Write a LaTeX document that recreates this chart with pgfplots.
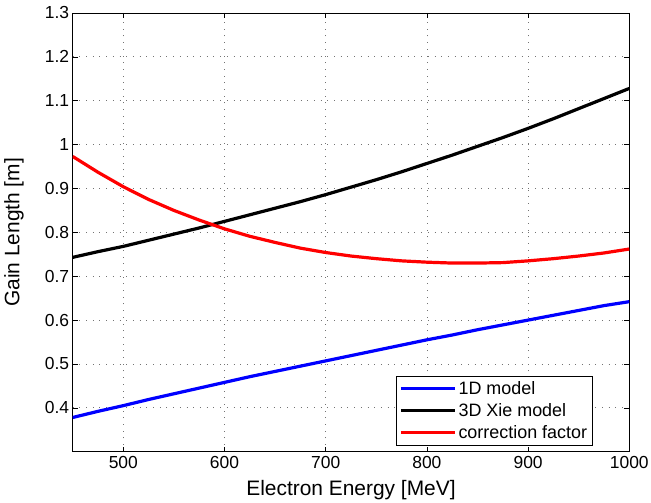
\documentclass[border=0pt]{standalone}
\usepackage{pgfplots}
\pgfplotsset{compat=1.18}
\usepackage{fontspec}
\setmainfont{Liberation Sans}
\begin{document}
\begin{tikzpicture}
\begin{axis}[
  name=ax,
  scale only axis,
  width=556.6bp, height=438.7bp,
  xmin=450, xmax=1000, ymin=0.3, ymax=1.3,
  xtick={500,600,700,800,900,1000},
  ytick={0.4,0.5,0.6,0.7,0.8,0.9,1,1.1,1.2,1.3},
  /pgf/number format/assume math mode=true,
  /pgf/number format/1000 sep={},
  tick label style={font=\fontsize{17.5}{19}\selectfont},
  xticklabel style={yshift=-1bp},
  xlabel={Electron Energy [MeV]},
  ylabel={Gain Length [m]},
  xlabel style={font=\fontsize{21}{23}\selectfont, at={(axis description cs:0.5,-0.0873)}, anchor=center},
  ylabel style={font=\fontsize{21}{23}\selectfont, at={(axis description cs:-0.1055,0.5)}, anchor=center},
  tick align=inside,
  major tick length=5bp,
  tick style={black, line width=0.6bp},
  axis line style={black, line width=0.9bp},
  grid=major,
  grid style={black!55, line width=0.8bp, dash pattern=on 0.8bp off 5.9bp},
  scaled ticks=false,
  legend style={at={(0.9335,0.0153)}, anchor=south east,
    font=\fontsize{18}{20}\selectfont, draw=black,
    inner xsep=3bp, inner ysep=3bp, row sep=3.5bp,
    cells={anchor=west}},
  legend image code/.code={\path (0bp,0bp) -- (54bp,0bp); \draw[#1, line width=3.2bp] (12bp,0bp) -- (54bp,0bp);},
]
\addplot[blue, line width=3.2bp] coordinates {
(450,0.378) (475,0.392) (500,0.405) (525,0.419) (550,0.432) (575,0.445)
(600,0.458) (625,0.471) (650,0.483) (675,0.495) (700,0.507) (725,0.519)
(750,0.531) (775,0.543) (800,0.555) (825,0.566) (850,0.578) (875,0.589)
(900,0.600) (925,0.611) (950,0.622) (975,0.633) (1000,0.642)};
\addlegendentry{1D model}
\addplot[black, line width=3.2bp] coordinates {
(450,0.743) (475,0.756) (500,0.768) (525,0.782) (550,0.796) (575,0.810)
(600,0.825) (625,0.840) (650,0.855) (675,0.870) (700,0.886) (725,0.903)
(750,0.920) (775,0.938) (800,0.957) (825,0.976) (850,0.996) (875,1.016)
(900,1.037) (925,1.059) (950,1.082) (975,1.105) (1000,1.128)};
\addlegendentry{3D Xie model}
\addplot[red, line width=3.2bp] coordinates {
(450,0.973) (475,0.937) (500,0.904) (525,0.875) (550,0.850) (575,0.828)
(600,0.808) (625,0.791) (650,0.777) (675,0.764) (700,0.754) (725,0.746)
(750,0.740) (775,0.735) (800,0.732) (825,0.730) (850,0.730) (875,0.731)
(900,0.735) (925,0.740) (950,0.746) (975,0.753) (1000,0.762)};
\addlegendentry{correction factor}
\end{axis}
\pgfresetboundingbox
\path ([shift={(-72.7bp,-51.3bp)}]ax.south west) rectangle ([shift={(21.7bp,13bp)}]ax.north east);
\end{tikzpicture}
\end{document}
